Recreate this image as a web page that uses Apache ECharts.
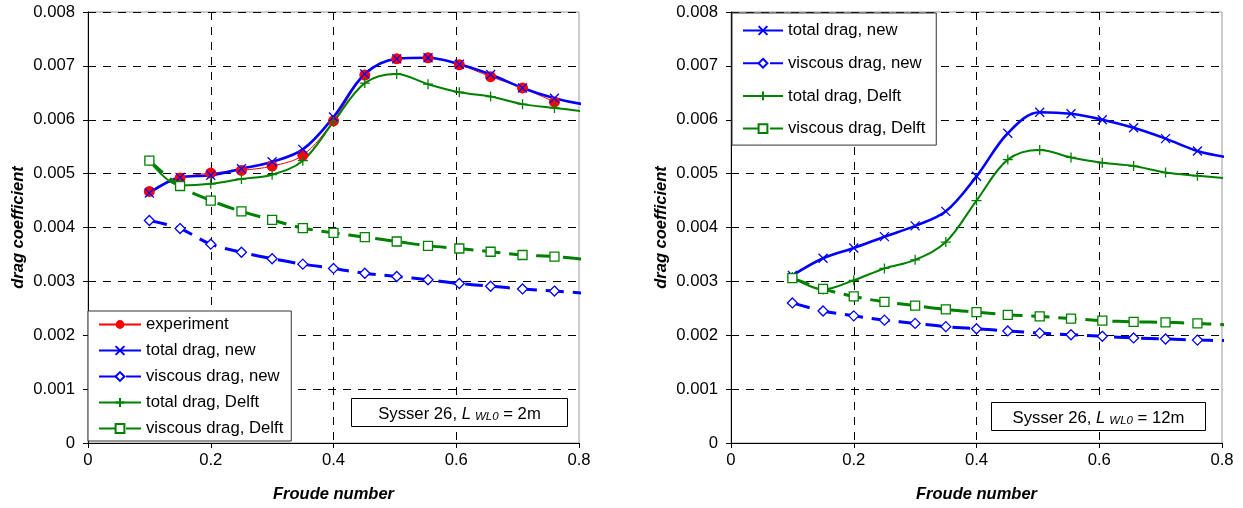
<!DOCTYPE html>
<html>
<head>
<meta charset="utf-8">
<script src="https://cdn.jsdelivr.net/npm/echarts@6/dist/echarts.min.js"></script>
<style>
html,body{margin:0;padding:0;background:#fff;}
#chart{width:1243px;height:508px;}
</style>
</head>
<body>
<div id="chart"></div>
<script>
// ---------- data ----------
const froude = [0.1, 0.15, 0.2, 0.25, 0.3, 0.35, 0.4, 0.451, 0.503, 0.554, 0.605, 0.656, 0.708, 0.76, 0.81];

// left chart: Sysser 26, L_WL0 = 2m
const expL       = [0.00467, 0.00492, 0.00501, 0.00506, 0.00514, 0.00534, 0.00598, 0.00683, 0.00713, 0.00715, 0.00702, 0.00680, 0.00659, 0.00633];
const totNewL    = [0.00464, 0.00493, 0.00497, 0.00509, 0.00522, 0.00545, 0.00605, 0.00685, 0.00713, 0.00715, 0.00703, 0.00684, 0.00659, 0.00640, 0.00628];
const viscNewL   = [0.00413, 0.00398, 0.00369, 0.00354, 0.00342, 0.00332, 0.00324, 0.00315, 0.00309, 0.00303, 0.00296, 0.00291, 0.00286, 0.00282, 0.00278];
const totDelftL  = [0.00524, 0.00478, 0.00481, 0.00490, 0.00498, 0.00524, 0.00596, 0.00668, 0.00685, 0.00666, 0.00651, 0.00643, 0.00629, 0.00622, 0.00615];
const viscDelftL = [0.00524, 0.00477, 0.00450, 0.00430, 0.00414, 0.00399, 0.00390, 0.00382, 0.00374, 0.00366, 0.00361, 0.00355, 0.00349, 0.00346, 0.00341];

// right chart: Sysser 26, L_WL0 = 12m
const totNewR    = [0.00311, 0.00343, 0.00362, 0.00383, 0.00403, 0.00430, 0.00495, 0.00575, 0.00614, 0.00611, 0.00600, 0.00585, 0.00565, 0.00542, 0.00530];
const viscNewR   = [0.00260, 0.00245, 0.00236, 0.00228, 0.00222, 0.00216, 0.00212, 0.00208, 0.00204, 0.00201, 0.00198, 0.00195, 0.00193, 0.00191, 0.00190];
const totDelftR  = [0.00308, 0.00285, 0.00302, 0.00324, 0.00340, 0.00373, 0.00450, 0.00526, 0.00544, 0.00530, 0.00520, 0.00514, 0.00502, 0.00496, 0.00491];
const viscDelftR = [0.00306, 0.00286, 0.00272, 0.00262, 0.00255, 0.00248, 0.00243, 0.00238, 0.00235, 0.00231, 0.00227, 0.00225, 0.00224, 0.00222, 0.00219];

const seriesNames = ['experiment', 'total drag, new', 'viscous drag, new', 'total drag, Delft', 'viscous drag, Delft'];
const xTicks = ['0', '0.2', '0.4', '0.6', '0.8'];
const yTicks = ['0', '0.001', '0.002', '0.003', '0.004', '0.005', '0.006', '0.007', '0.008'];
const xTitle = 'Froude number';
const yTitle = 'drag coefficient';
const annotL = ['Sysser 26, ', 'L', 'WL0', ' = 2m'];
const annotR = ['Sysser 26, ', 'L', 'WL0', ' = 12m'];

// ---------- styling ----------
const FONT = "'Liberation Sans', Arial, sans-serif";
const FS = 16.7;
const BLUE = '#0000FF', GREEN = '#008000', RED = '#FF0000';
const X_SYM = 'path://M0,0L10,10M10,0L0,10';
const PLUS_SYM = 'path://M5,0L5,10M0,5L10,5';

const styles = {
  'experiment':          {color: RED,   width: 1,   type: 'solid', symbol: 'circle', size: 11, fill: RED, bw: 0},
  'total drag, new':     {color: BLUE,  width: 2.6, type: 'solid', symbol: X_SYM, size: 9, fill: BLUE, bw: 1.3},
  'viscous drag, new':   {color: BLUE,  width: 3,   type: [18, 9], symbol: 'diamond', size: 10, fill: '#fff', bw: 1.3},
  'total drag, Delft':   {color: GREEN, width: 2,   type: 'solid', symbol: PLUS_SYM, size: 10, fill: GREEN, bw: 1.3},
  'viscous drag, Delft': {color: GREEN, width: 3,   type: [18, 9], symbol: 'rect', size: 9, fill: '#fff', bw: 1.3}
};

function mkSeries(name, vals, idx) {
  const s = styles[name];
  return {
    type: 'line', name: name, xAxisIndex: idx, yAxisIndex: idx,
    smooth: 0.35, clip: false, animation: false,
    symbol: s.symbol, symbolSize: s.size, showSymbol: true,
    lineStyle: {color: s.color, width: s.width, type: s.type},
    itemStyle: {color: s.fill, borderColor: s.color, borderWidth: s.bw},
    emphasis: {disabled: true},
    data: vals.map((v, i) => i >= 14 ? {value: [froude[i], v], symbol: 'none'} : [froude[i], v])
  };
}

function xAxisCfg(idx) {
  return {
    type: 'value', gridIndex: idx, min: 0, max: 0.8, interval: 0.2,
    name: xTitle, nameLocation: 'middle', nameGap: 43,
    nameTextStyle: {fontFamily: FONT, fontSize: 16.5, fontWeight: 'bold', fontStyle: 'italic', color: '#000'},
    axisLine: {show: true, lineStyle: {color: '#000', width: 1}},
    axisTick: {show: true, length: 5, lineStyle: {color: '#000'}},
    axisLabel: {fontFamily: FONT, fontSize: FS, color: '#000', margin: 9,
      formatter: v => xTicks[Math.round(v / 0.2)]},
    splitLine: {show: true, showMinLine: false, showMaxLine: false, lineStyle: {color: '#000', width: 1, type: [8, 7]}}
  };
}
function yAxisCfg(idx) {
  return {
    type: 'value', gridIndex: idx, min: 0, max: 0.008, interval: 0.001,
    name: yTitle, nameLocation: 'middle', nameGap: 61, nameRotate: 90,
    nameTextStyle: {fontFamily: FONT, fontSize: 16.5, fontWeight: 'bold', fontStyle: 'italic', color: '#000'},
    axisLine: {show: true, lineStyle: {color: '#000', width: 1}},
    axisTick: {show: true, length: 5, lineStyle: {color: '#000'}},
    axisLabel: {fontFamily: FONT, fontSize: FS, color: '#000', margin: 13,
      formatter: v => yTicks[Math.round(v / 0.001)]},
    splitLine: {show: true, showMinLine: false, lineStyle: {color: '#000', width: 1, type: [8, 7]}}
  };
}

function annot(parts, rect) {
  return [
    {type: 'rect', z: 100, shape: rect, style: {fill: '#fff', stroke: '#000', lineWidth: 1}},
    {type: 'text', z: 101, x: rect.x + rect.width / 2, y: rect.y + rect.height / 2 + 1,
      style: {
        text: '{n|' + parts[0] + '}{i|' + parts[1] + '}{s|' + parts[2] + '}{n|' + parts[3] + '}',
        align: 'center', verticalAlign: 'middle',
        rich: {
          n: {fontFamily: FONT, fontSize: FS, fill: '#000', lineHeight: 18, verticalAlign: 'bottom'},
          i: {fontFamily: FONT, fontSize: FS, fontStyle: 'italic', fill: '#000', lineHeight: 18, verticalAlign: 'bottom'},
          s: {fontFamily: FONT, fontSize: 11.5, fontStyle: 'italic', fill: '#000', lineHeight: 9, verticalAlign: 'bottom', padding: [0, 0, 0, 4]}
        }
      }}
  ];
}

const legendText = {fontFamily: FONT, fontSize: FS, color: '#000', lineHeight: 16};

const option = {
  animation: false,
  backgroundColor: '#fff',
  grid: [
    {left: 88, top: 12, width: 491, height: 432, show: true, borderColor: '#999', borderWidth: 1, backgroundColor: 'transparent'},
    {left: 731, top: 12, width: 491, height: 432, show: true, borderColor: '#999', borderWidth: 1, backgroundColor: 'transparent'}
  ],
  xAxis: [xAxisCfg(0), xAxisCfg(1)],
  yAxis: [yAxisCfg(0), yAxisCfg(1)],
  legend: [
    {orient: 'vertical', left: 88, top: 311, data: seriesNames,
      itemWidth: 42, itemHeight: 11, itemGap: 9, padding: [5, 8, 4, 10],
      backgroundColor: '#fff', borderColor: '#333', borderWidth: 1, borderRadius: 0,
      textStyle: legendText, selectedMode: false},
    {orient: 'vertical', left: 732, top: 13, data: seriesNames.slice(1),
      itemWidth: 40, itemHeight: 11, itemGap: 15.7, padding: [9, 11, 8, 10],
      backgroundColor: '#fff', borderColor: '#333', borderWidth: 1, borderRadius: 0,
      textStyle: legendText, selectedMode: false}
  ],
  series: [
    mkSeries('experiment', expL, 0),
    mkSeries('total drag, new', totNewL, 0),
    mkSeries('viscous drag, new', viscNewL, 0),
    mkSeries('total drag, Delft', totDelftL, 0),
    mkSeries('viscous drag, Delft', viscDelftL, 0),
    mkSeries('total drag, new', totNewR, 1),
    mkSeries('viscous drag, new', viscNewR, 1),
    mkSeries('total drag, Delft', totDelftR, 1),
    mkSeries('viscous drag, Delft', viscDelftR, 1)
  ],
  graphic: [].concat(
    annot(annotL, {x: 351.5, y: 398.5, width: 216, height: 28}),
    annot(annotR, {x: 991.5, y: 402.5, width: 214, height: 28})
  )
};

const chart = echarts.init(document.getElementById('chart'), null, {renderer: 'canvas'});
chart.setOption(option);
</script>
</body>
</html>
